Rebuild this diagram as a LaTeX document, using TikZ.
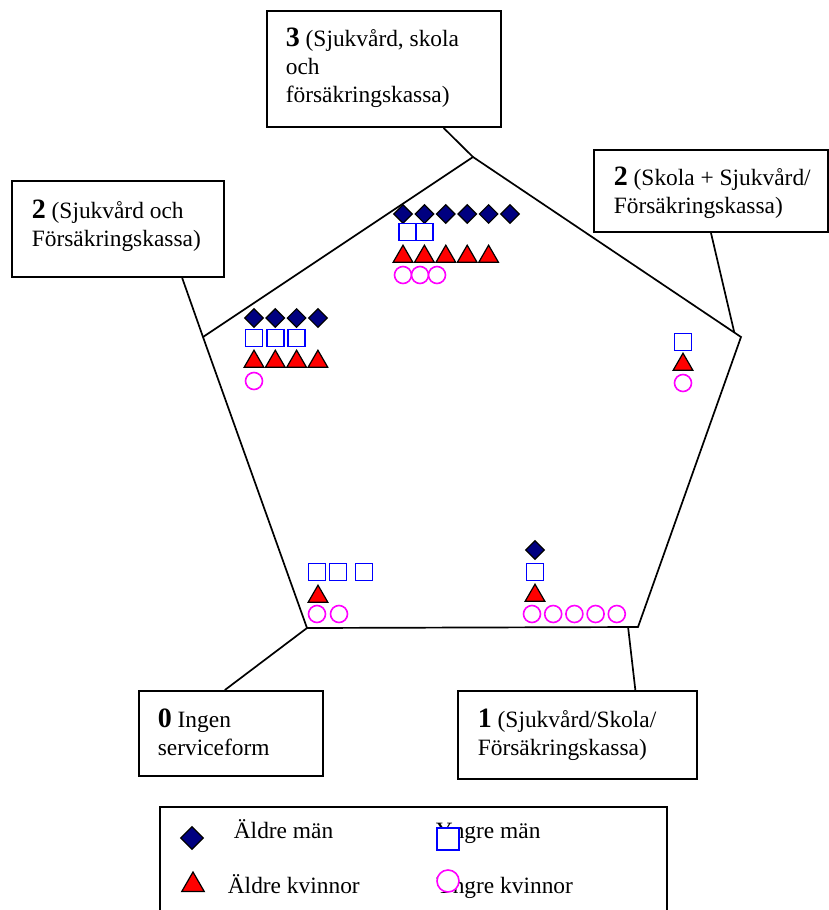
\documentclass[tikz,border=0pt]{standalone}
\usepackage{fontspec}
\setmainfont{Liberation Serif}
\usetikzlibrary{shapes, shapes.geometric, calc}

\definecolor{navy}{RGB}{0,0,128}
\definecolor{rosa}{RGB}{255,0,255}

\newcommand{\nivaa}[1]{{\fontsize{14}{14}\selectfont\bfseries #1}}

\tikzset{
    box/.style={draw, line width=1pt, inner sep=0pt},
    txt/.style={anchor=base west, align=left, inner sep=0pt, font=\fontsize{11.7}{13.8}\selectfont},
    aldreman/.style={draw, fill=navy, diamond, inner sep=0pt, minimum width=9.5pt, minimum height=9.5pt, line width=0.6pt},
    yngreman/.style={draw=blue, fill=white, rectangle, inner sep=0pt, minimum size=8.5pt, line width=0.8pt},
    aldrekvinna/.style={draw, fill=red, regular polygon, regular polygon sides=3, inner sep=0pt, minimum size=11.3pt, line width=0.6pt},
    yngrekvinna/.style={draw=rosa, fill=white, circle, inner sep=0pt, minimum size=8.5pt, line width=0.8pt},
}

\begin{document}
\begin{tikzpicture}[x=0.5pt, y=-0.5pt, line width=0.85pt]
    \useasboundingbox (0,0) rectangle (829,910);

    % femhörningen
    \coordinate (top) at (473,157);
    \coordinate (right) at (741,337);
    \coordinate (br) at (638,627);
    \coordinate (bl) at (307,628);
    \coordinate (left) at (203,337);
    \draw (top) -- (right) -- (br) -- (bl) -- (left) -- cycle;

    % rutor
    \node[box, minimum width=117pt, minimum height=58pt] (b3) at (384,69) {};
    \node[box, minimum width=106pt, minimum height=48pt] (b2l) at (118,229) {};
    \node[box, minimum width=117pt, minimum height=41pt] (b2r) at (711,191) {};
    \node[box, minimum width=92pt, minimum height=42.5pt] (b0) at (231,733.5) {};
    \node[box, minimum width=119.5pt, minimum height=44pt] (b1) at (577.5,735) {};
    \node[box, minimum width=253.5pt, minimum height=76.5pt] (leg) at (413.5,883.5) {};

    % texterna sitter på sista radens baslinje
    \node[txt] (t3) at (285,102) {\nivaa{3} (Sjukvård, skola\\och\\försäkringskassa)};
    \node[txt] (t2l) at (31,246) {\nivaa{2} (Sjukvård och\\Försäkringskassa)};
    \node[txt] (t2r) at (613,213) {\nivaa{2} (Skola + Sjukvård/\\Försäkringskassa)};
    \node[txt] (t0) at (157,755) {\nivaa{0} Ingen\\serviceform};
    \node[txt] (t1) at (477,755) {\nivaa{1} (Sjukvård/Skola/\\Försäkringskassa)};

    % linjer till hörnen
    \draw (b3) -- (top);
    \draw ($(b2l.south west)!0.8!(b2l.south east)$) -- (left);
    \draw (b2r.south) -- ($(top)!0.975!(right)$);
    \draw (bl) -- ($(b0.north west)!0.467!(b0.north east)$);
    \draw ($(bl)!0.97!(br)$) -- ($(b1.north west)!0.74!(b1.north east)$);

    % nivå 3
    \foreach \i in {0,...,5}
        \node[aldreman] (d3-\i) at (403+21.4*\i,214) {};
    \node[yngreman] (s3-0) at (407.5,232) {};
    \node[yngreman] (s3-1) at (424.5,232) {};
    \foreach \i in {0,...,4}
        \node[aldrekvinna] (k3-\i) at (403+21.4*\i,256.5) {};
    \foreach \i in {0,...,2}
        \node[yngrekvinna] (c3-\i) at (403+17*\i,275) {};

    % nivå 2, vänster
    \foreach \i in {0,...,3}
        \node[aldreman] (d2-\i) at (254+21.3*\i,318) {};
    \foreach \i in {0,...,2}
        \node[yngreman] (s2-\i) at (254+21.3*\i,338) {};
    \foreach \i in {0,...,3}
        \node[aldrekvinna] (k2-\i) at (254+21.3*\i,361.5) {};
    \node[yngrekvinna] (c2-0) at (254,381) {};

    % nivå 2, höger
    \node[yngreman] (s2r) at (683,342) {};
    \node[aldrekvinna] (k2r) at (683,364.5) {};
    \node[yngrekvinna] (c2r) at (683,383) {};

    % nivå 0
    \node[yngreman] (s0-0) at (317,572) {};
    \node[yngreman] (s0-1) at (338,572) {};
    \node[yngreman] (s0-2) at (364,572) {};
    \node[aldrekvinna] (k0) at (318,596.5) {};
    \node[yngrekvinna] (c0-0) at (317,614) {};
    \node[yngrekvinna] (c0-1) at (339,614) {};

    % nivå 1
    \node[aldreman] (d1) at (535,550) {};
    \node[yngreman] (s1) at (535,572) {};
    \node[aldrekvinna] (k1) at (535,595.5) {};
    \foreach \i in {0,...,4}
        \node[yngrekvinna] (c1-\i) at (532+21.2*\i,614) {};

    % teckenförklaring
    \node[txt] (l1) at (233,838) {Äldre män};
    \node[txt] (l2) at (435,838) {Yngre män};
    \node[txt] (l3) at (227,893) {Äldre kvinnor};
    \node[txt] (l4) at (435,893) {Yngre kvinnor};
    \node[aldreman, minimum width=11.5pt, minimum height=11.5pt] (ld) at (192,838) {};
    \node[yngreman, minimum size=11pt] (ls) at (448,839) {};
    \node[aldrekvinna, minimum size=13pt] (lk) at (193,885) {};
    \node[yngrekvinna, minimum size=11pt] (lc) at (448,881) {};
\end{tikzpicture}
\end{document}
